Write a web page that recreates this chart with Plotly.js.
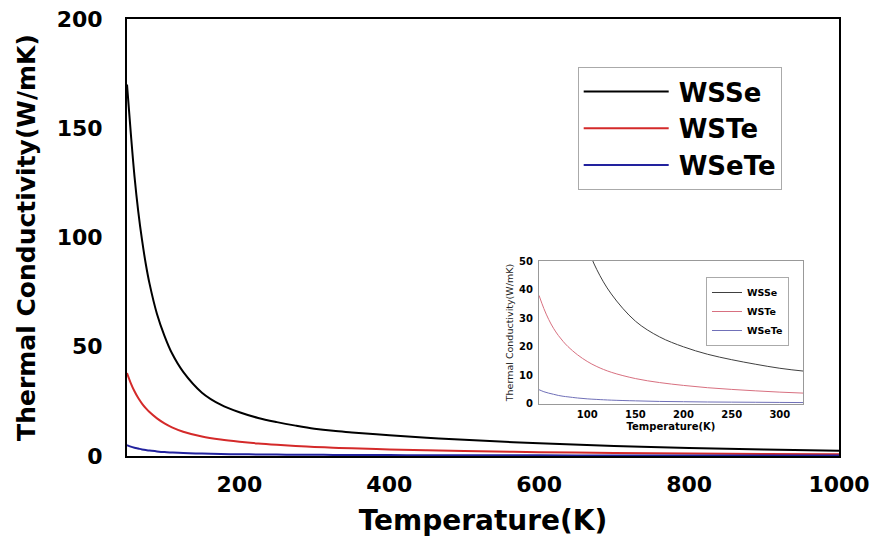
<!DOCTYPE html>
<html>
<head>
<meta charset="utf-8">
<script src="https://cdn.plot.ly/plotly-3.0.1.min.js"></script>
<style>html,body{margin:0;padding:0;background:#fff;}#chart{width:878px;height:544px;}</style>
</head>
<body>
<div id="chart"></div>
<script>
// Data
const temperature = [50,55,60,65,70,75,80,90,100,110,125,150,175,200,225,250,275,300,325,350,400,450,500,600,700,800,900,1000];
const wsse  = [170,148,128,112,99,88,79,65,55,47,38.5,29,23.5,20,17.4,15.5,13.9,12.5,11.5,10.8,9.5,8.4,7.4,5.8,4.6,3.7,3.0,2.4];
const wste  = [38,33.4,29.6,26.5,24.0,21.9,20.1,17.2,14.9,13.1,11.1,8.9,7.5,6.5,5.7,5.1,4.6,4.15,3.8,3.5,3.0,2.6,2.25,1.75,1.4,1.15,0.95,0.8];
const wsete = [5,4.3,3.8,3.4,3.0,2.7,2.5,2.1,1.8,1.6,1.35,1.1,0.9,0.8,0.7,0.65,0.6,0.55,0.5,0.48,0.42,0.38,0.35,0.3,0.26,0.23,0.21,0.2];
const seriesNames = ["WSSe","WSTe","WSeTe"];
const mainTicksX = [200,400,600,800,1000];
const mainTicksY = [0,50,100,150,200];
const insetTicksX = [100,150,200,250,300];
const insetTicksY = [0,10,20,30,40,50];

const mainColors = ["#000000","#d42a2a","#22229e"];
const insetColors = ["#404040","#d87080","#7070b8"];
const values = [wsse, wste, wsete];

const FAM = "DejaVu Sans, Liberation Sans, Arial, sans-serif";
const bold = {family:FAM, weight:"bold", color:"#000"};

const traces = [];
values.forEach((v,i)=>{
  traces.push({x:temperature, y:v, type:"scatter", mode:"lines", name:seriesNames[i],
    line:{color:mainColors[i], width:2, shape:"spline"}, xaxis:"x", yaxis:"y", legend:"legend"});
});
values.forEach((v,i)=>{
  traces.push({x:temperature, y:v, type:"scatter", mode:"lines", name:seriesNames[i],
    line:{color:insetColors[i], width:1, shape:"spline"}, xaxis:"x2", yaxis:"y2", legend:"legend2"});
});

const layout = {
  width:878, height:544,
  margin:{l:127, r:39, t:19, b:88},
  paper_bgcolor:"#fff", plot_bgcolor:"rgba(0,0,0,0)",
  showlegend:true,
  xaxis:{range:[50,1000], tickvals:mainTicksX, showgrid:false, zeroline:false,
    showline:true, mirror:true, linecolor:"#000", linewidth:2,
    ticks:"outside", ticklen:8, tickcolor:"rgba(0,0,0,0)",
    tickfont:Object.assign({size:22}, bold),
    title:{text:"Temperature(K)", font:Object.assign({size:28}, bold), standoff:14}},
  yaxis:{range:[0,200], tickvals:mainTicksY, showgrid:false, zeroline:false,
    showline:true, mirror:true, linecolor:"#000", linewidth:2,
    ticks:"outside", ticklen:18, tickcolor:"rgba(0,0,0,0)",
    tickfont:Object.assign({size:22}, bold),
    title:{text:"Thermal Conductivity(W/mK)", font:Object.assign({size:25}, bold), standoff:14}},
  xaxis2:{domain:[0.5787,0.9494], anchor:"y2", range:[50,324], tickvals:insetTicksX,
    showgrid:false, zeroline:false, showline:true, mirror:true, linecolor:"#999", linewidth:1,
    ticks:"outside", ticklen:1, tickcolor:"rgba(0,0,0,0)",
    tickfont:Object.assign({size:10}, bold),
    title:{text:"Temperature(K)", font:Object.assign({size:10}, bold), standoff:4}},
  yaxis2:{domain:[0.119,0.446], anchor:"x2", range:[0,50], tickvals:insetTicksY,
    showgrid:false, zeroline:false, showline:true, mirror:true, linecolor:"#999", linewidth:1,
    ticks:"outside", ticklen:3, tickcolor:"rgba(0,0,0,0)",
    tickfont:Object.assign({size:10}, bold),
    title:{text:"Thermal Conductivity(W/mK)", font:{family:FAM, size:9.5, color:"#222"}, standoff:3}},
  legend:{x:0.633, y:0.890, xanchor:"left", yanchor:"top", bgcolor:"#fff",
    bordercolor:"#aaa", borderwidth:1, itemwidth:90, tracegroupgap:0,
    font:Object.assign({size:26}, bold)},
  legend2:{x:0.8132, y:0.4096, xanchor:"left", yanchor:"top", bgcolor:"#fff",
    bordercolor:"#aaa", borderwidth:1, itemwidth:24,
    font:Object.assign({size:9.5}, bold)}
};

Plotly.newPlot("chart", traces, layout, {staticPlot:true}).then(gd=>{
  // lengthen legend sample lines to match the reference
  gd.querySelectorAll(".legend").forEach(lg=>{
    const isMain = lg.getBoundingClientRect().width > 150;
    lg.querySelectorAll(".legendlines path").forEach(p=>{
      p.setAttribute("d", isMain ? "M5,0h85" : "M5,0h27");
    });
  });
});
</script>
</body>
</html>
